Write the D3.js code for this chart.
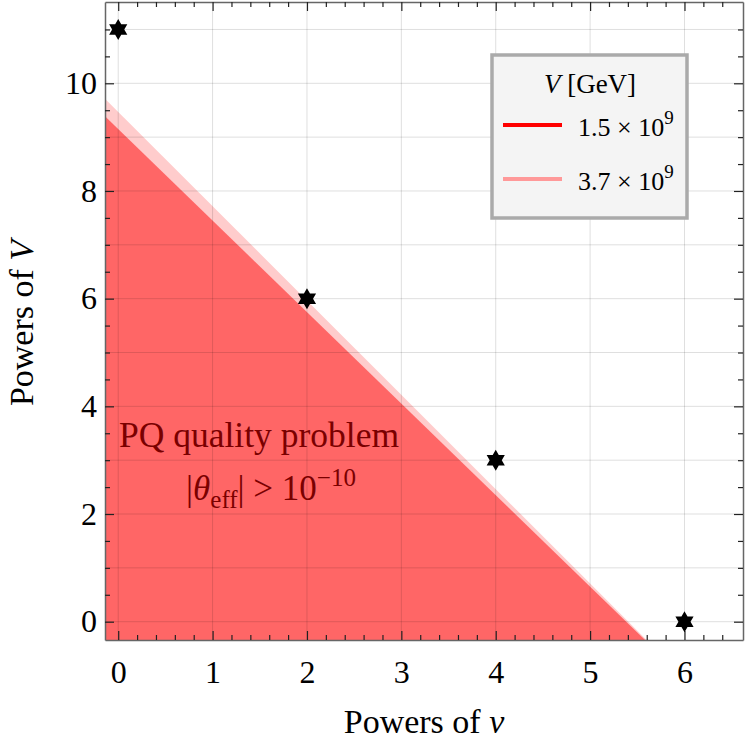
<!DOCTYPE html>
<html>
<head>
<meta charset="utf-8">
<script src="https://cdn.jsdelivr.net/npm/d3@7"></script>
<style>
  body { margin: 0; background: #fff; }
  svg text { font-family: "Liberation Serif", "Times New Roman", serif; }
</style>
</head>
<body>
<div id="chart"></div>
<script>
// Data
const xDomain = [-0.14, 6.62];
const yDomain = [-0.34, 11.51];
const xTicks = [0, 1, 2, 3, 4, 5, 6];
const yTicks = [0, 2, 4, 6, 8, 10];
const starN = [0, 2, 4, 6];
const starM = [11, 6, 3, 0];
// boundary lines m = intercept + slope * n, one per value of V
const seriesNames = ["1.5", "3.7"];
const seriesExp = ["9", "9"];
const intercepts = [9.15, 9.47];
const slopes = [-1.70, -1.752];
const fillColors = ["#ff6666", "#ffcccc"];
const lineColors = ["#ff0000", "#ff9999"];

const width = 745, height = 750;
const margin = { top: 2, right: 2, bottom: 110, left: 105 };

const svg = d3.select("#chart").append("svg")
  .attr("width", width)
  .attr("height", height);

const x = d3.scaleLinear().domain(xDomain).range([margin.left, width - margin.right]);
const y = d3.scaleLinear().domain(yDomain).range([height - margin.bottom, margin.top]);

const plotBottom = y.range()[0], plotTop = y.range()[1];
const plotLeft = x.range()[0], plotRight = x.range()[1];

svg.append("clipPath").attr("id", "plot-clip")
  .append("rect")
  .attr("x", plotLeft).attr("y", plotTop)
  .attr("width", plotRight - plotLeft)
  .attr("height", plotBottom - plotTop);

const plot = svg.append("g").attr("clip-path", "url(#plot-clip)");

// Filled regions below each boundary (lighter one first)
[1, 0].forEach(i => {
  const b = intercepts[i], s = slopes[i];
  const x0 = xDomain[0], y0 = yDomain[0];
  const pts = [
    [x0, y0],
    [x0, b + s * x0],
    [(y0 - b) / s, y0]
  ];
  plot.append("path")
    .attr("d", d3.line().x(d => x(d[0])).y(d => y(d[1]))(pts) + "Z")
    .attr("fill", fillColors[i]);
});

// Grid
const xGrid = d3.range(0, 7);
const yGrid = d3.range(0, 12);
plot.selectAll(".vgrid").data(xGrid).enter().append("line")
  .attr("x1", d => x(d)).attr("x2", d => x(d))
  .attr("y1", plotBottom).attr("y2", plotTop)
  .attr("stroke", "rgba(0,0,0,0.13)").attr("stroke-width", 1);
plot.selectAll(".hgrid").data(yGrid).enter().append("line")
  .attr("y1", d => y(d)).attr("y2", d => y(d))
  .attr("x1", plotLeft).attr("x2", plotRight)
  .attr("stroke", "rgba(0,0,0,0.13)").attr("stroke-width", 1);

// Axes: majors and minors, ticks pointing inward on all four sides
const xMinor = d3.range(0, 33).map(i => +(i * 0.2).toFixed(1)).filter(v => !xTicks.includes(v));
const yMinor = d3.range(0, 23).map(i => i * 0.5).filter(v => !yTicks.includes(v));

function styleAxis(g) {
  g.select(".domain").attr("stroke", "#666").attr("stroke-width", 1.5);
  g.selectAll(".tick line").attr("stroke", "#222").attr("stroke-width", 1.2);
  g.selectAll(".tick text").attr("fill", "#000").style("font-size", "32px")
    .style("font-family", '"Liberation Serif", "Times New Roman", serif');
}

svg.append("g").attr("transform", `translate(0,${plotBottom})`)
  .call(d3.axisBottom(x).tickValues(xMinor).tickSize(-5).tickSizeOuter(0).tickFormat(""))
  .call(styleAxis);
svg.append("g").attr("transform", `translate(0,${plotBottom})`)
  .call(d3.axisBottom(x).tickValues(xTicks).tickSize(-9).tickSizeOuter(0).tickPadding(20).tickFormat(d3.format("d")))
  .call(styleAxis)
  .call(g => g.select(".domain").remove());

svg.append("g").attr("transform", `translate(0,${plotTop})`)
  .call(d3.axisTop(x).tickValues(xMinor).tickSize(-5).tickSizeOuter(0).tickFormat(""))
  .call(styleAxis);
svg.append("g").attr("transform", `translate(0,${plotTop})`)
  .call(d3.axisTop(x).tickValues(xTicks).tickSize(-9).tickSizeOuter(0).tickFormat(""))
  .call(styleAxis)
  .call(g => g.select(".domain").remove());

svg.append("g").attr("transform", `translate(${plotLeft},0)`)
  .call(d3.axisLeft(y).tickValues(yMinor).tickSize(-5).tickSizeOuter(0).tickFormat(""))
  .call(styleAxis);
svg.append("g").attr("transform", `translate(${plotLeft},0)`)
  .call(d3.axisLeft(y).tickValues(yTicks).tickSize(-9).tickSizeOuter(0).tickPadding(8).tickFormat(d3.format("d")))
  .call(styleAxis)
  .call(g => g.select(".domain").remove());

svg.append("g").attr("transform", `translate(${plotRight},0)`)
  .call(d3.axisRight(y).tickValues(yMinor).tickSize(-5).tickSizeOuter(0).tickFormat(""))
  .call(styleAxis);
svg.append("g").attr("transform", `translate(${plotRight},0)`)
  .call(d3.axisRight(y).tickValues(yTicks).tickSize(-9).tickSizeOuter(0).tickFormat(""))
  .call(styleAxis)
  .call(g => g.select(".domain").remove());

// Six-pointed star markers
function hexagram(R) {
  const r = R / Math.sqrt(3);
  const pts = [];
  for (let k = 0; k < 12; k++) {
    const a = -Math.PI / 2 + k * Math.PI / 6;
    const rr = k % 2 === 0 ? R : r;
    pts.push([rr * Math.cos(a), rr * Math.sin(a)]);
  }
  return d3.line()(pts) + "Z";
}
svg.selectAll(".star").data(starN).enter().append("path")
  .attr("class", "star")
  .attr("d", hexagram(10.5))
  .attr("transform", (d, i) => `translate(${x(d)},${y(starM[i])})`)
  .attr("fill", "#000");

// Annotation
svg.append("text")
  .attr("x", 259).attr("y", 447)
  .attr("text-anchor", "middle")
  .attr("fill", "#7a0000")
  .style("font-size", "35.5px")
  .text("PQ quality problem");

const ann = svg.append("text")
  .attr("x", 271).attr("y", 500)
  .attr("text-anchor", "middle")
  .attr("fill", "#7a0000")
  .style("font-size", "35px");
ann.append("tspan").text("|");
ann.append("tspan").style("font-style", "italic").text("θ");
ann.append("tspan").attr("dy", 8).style("font-size", "25px").text("eff");
ann.append("tspan").attr("dy", -8).text("| > 10");
ann.append("tspan").attr("dy", -14).style("font-size", "25px").text("−10");

// Axis titles
const xt = svg.append("text")
  .attr("x", (plotLeft + plotRight) / 2).attr("y", 733)
  .attr("text-anchor", "middle")
  .style("font-size", "34px");
xt.append("tspan").text("Powers of ");
xt.append("tspan").style("font-style", "italic").text("v");

const yt = svg.append("text")
  .attr("transform", `translate(33,${(plotTop + plotBottom) / 2 + 2}) rotate(-90)`)
  .attr("text-anchor", "middle")
  .style("font-size", "34px");
yt.append("tspan").text("Powers of ");
yt.append("tspan").style("font-style", "italic").text("V");

// Legend
const legend = svg.append("g").attr("transform", "translate(492,55)");
legend.append("rect")
  .attr("width", 195).attr("height", 163)
  .attr("fill", "#f4f4f4")
  .attr("stroke", "#aaaaaa").attr("stroke-width", 3.5);
const lt = legend.append("text")
  .attr("x", 98).attr("y", 38)
  .attr("text-anchor", "middle")
  .style("font-size", "27px");
lt.append("tspan").style("font-style", "italic").text("V");
lt.append("tspan").text("\u00a0[GeV]");

seriesNames.forEach((name, i) => {
  const ly = 70 + i * 54;
  legend.append("line")
    .attr("x1", 11).attr("x2", 70)
    .attr("y1", ly).attr("y2", ly)
    .attr("stroke", lineColors[i]).attr("stroke-width", 4);
  const t = legend.append("text")
    .attr("x", 86).attr("y", ly + 11)
    .style("font-size", "26px");
  t.append("tspan").text(name + " × 10");
  t.append("tspan").attr("dy", -12).style("font-size", "19px").text(seriesExp[i]);
});
</script>
</body>
</html>
